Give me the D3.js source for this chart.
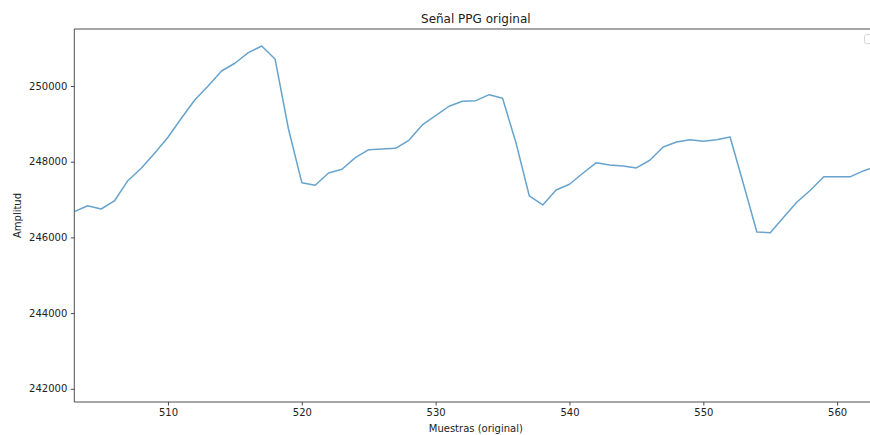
<!DOCTYPE html>
<html>
<head>
<meta charset="utf-8">
<script src="https://d3js.org/d3.v7.min.js"></script>
<style>
  body { margin: 0; background: #fff; }
  svg { display: block; font-family: "DejaVu Sans", sans-serif; }
</style>
</head>
<body>
<div id="chartHere"></div>
<script>

// muestras y amplitud
var muestras = [503,504,505,506,507,508,509,510,511,512,513,514,515,516,517,518,519,520,
  521,522,523,524,525,526,527,528,529,530,531,532,533,534,535,536,537,538,539,540,
  541,542,543,544,545,546,547,548,549,550,551,552,553,554,555,556,557,558,559,560,
  561,562,563];
var amplitud = [246679,246837,246750,246962,247498,247826,248225,248644,249146,249630,
  250000,250396,250600,250880,251057,250713,248870,247445,247377,247701,247799,248106,
  248317,248336,248354,248565,248970,249215,249464,249596,249612,249770,249675,248502,
  247094,246856,247252,247403,247694,247974,247913,247886,247834,248037,248388,248520,
  248581,248539,248581,248653,247411,246143,246124,246531,246935,247244,247604,247604,
  247604,247762,247886];
var xTicks = [510,520,530,540,550,560];
var yTicks = [242000,244000,246000,248000,250000];

var dims = {width: 870, height: 435};
var margin = {top: 29, left: 74.3, bottom: 33, rightEdge: 877.3};

var svg = d3.select("#chartHere").append("svg")
    .attr("width", dims.width)
    .attr("height", dims.height);

var x = d3.scaleLinear()
    .domain([503, 563])
    .range([margin.left, margin.rightEdge]);

var y = d3.scaleLinear()
    .domain([241651, 251505])
    .range([dims.height - margin.bottom, margin.top]);

// eje x
var gx = svg.append("g")
    .attr("transform", "translate(0," + (dims.height - margin.bottom) + ")")
    .call(d3.axisBottom(x).tickValues(xTicks).tickSize(3.5).tickPadding(3.5).tickFormat(d3.format("d")));

// eje y
var gy = svg.append("g")
    .attr("transform", "translate(" + margin.left + ",0)")
    .call(d3.axisLeft(y).tickValues(yTicks).tickSize(3.5).tickPadding(3.5).tickFormat(d3.format("d")));

[gx, gy].forEach(function (g) {
  g.select(".domain").remove();
  g.selectAll("line").attr("stroke", "#222").attr("stroke-width", 0.8);
  g.selectAll("text").attr("fill", "#222").style("font-size", "10px")
    .style("font-family", "DejaVu Sans, sans-serif");
});

// spines
svg.append("line")
    .attr("x1", margin.left).attr("x2", margin.left)
    .attr("y1", margin.top).attr("y2", dims.height - margin.bottom)
    .attr("stroke", "#222").attr("stroke-width", 0.8);
svg.append("line")
    .attr("x1", margin.left).attr("x2", margin.rightEdge)
    .attr("y1", dims.height - margin.bottom).attr("y2", dims.height - margin.bottom)
    .attr("stroke", "#222").attr("stroke-width", 0.8);
svg.append("line")
    .attr("x1", margin.left).attr("x2", margin.rightEdge)
    .attr("y1", margin.top).attr("y2", margin.top)
    .attr("stroke", "#222").attr("stroke-width", 0.8);

// serie
var line = d3.line()
    .x(function (d, i) { return x(muestras[i]); })
    .y(function (d) { return y(d); });

svg.append("path")
    .datum(amplitud)
    .attr("d", line)
    .attr("fill", "none")
    .attr("stroke", "#1f77b4")
    .attr("stroke-opacity", 0.68)
    .attr("stroke-width", 1.5)
    .attr("stroke-linejoin", "round");

// leyenda vacia
svg.append("rect")
    .attr("x", 864.5).attr("y", 34.5)
    .attr("width", 8).attr("height", 9)
    .attr("rx", 2)
    .attr("fill", "#fff").attr("fill-opacity", 0.8)
    .attr("stroke", "#d6d6d6").attr("stroke-width", 1);

var mid = (margin.left + margin.rightEdge) / 2;

// titulos
svg.append("text")
    .attr("x", mid).attr("y", 23)
    .attr("text-anchor", "middle")
    .style("font-size", "12px")
    .attr("fill", "#222")
    .text("Señal PPG original");

svg.append("text")
    .attr("x", mid).attr("y", 432)
    .attr("text-anchor", "middle")
    .style("font-size", "10px")
    .attr("fill", "#222")
    .text("Muestras (original)");

svg.append("text")
    .attr("transform", "translate(21," + ((margin.top + dims.height - margin.bottom) / 2) + ") rotate(-90)")
    .attr("text-anchor", "middle")
    .style("font-size", "10px")
    .attr("fill", "#222")
    .text("Amplitud");

</script>
</body>
</html>
